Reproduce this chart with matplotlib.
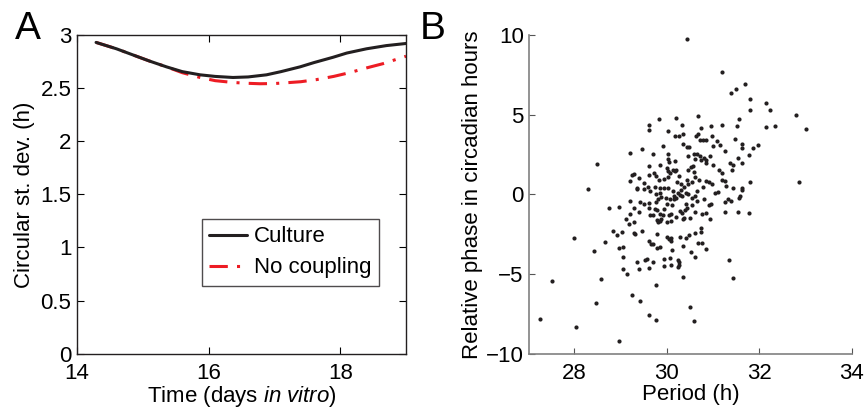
import matplotlib
matplotlib.use("Agg")
import matplotlib.pyplot as plt
import numpy as np

plt.rcParams['font.family'] = ['Liberation Sans', 'DejaVu Sans']
plt.rcParams['axes.unicode_minus'] = True
plt.rcParams['mathtext.fontset'] = 'custom'
plt.rcParams['mathtext.rm'] = 'Liberation Sans'
plt.rcParams['mathtext.it'] = 'Liberation Sans:italic'

# ---- Panel A data ----
time_culture = [14.29, 14.6, 14.86, 15.1, 15.36, 15.6, 15.87, 16.1, 16.37, 16.6, 16.88, 17.1, 17.39, 17.6, 17.89, 18.1, 18.40, 18.7, 19.0]
sd_culture   = [2.93, 2.87, 2.81, 2.755, 2.70, 2.655, 2.625, 2.61, 2.60, 2.605, 2.625, 2.655, 2.70, 2.74, 2.79, 2.83, 2.87, 2.90, 2.92]
time_nocoup  = [14.29, 14.6, 14.86, 15.1, 15.36, 15.6, 15.87, 16.1, 16.37, 16.6, 16.78, 17.0, 17.13, 17.4, 17.64, 17.9, 18.14, 18.4, 18.65, 18.85, 19.0]
sd_nocoup    = [2.93, 2.87, 2.81, 2.755, 2.70, 2.645, 2.60, 2.57, 2.553, 2.545, 2.541, 2.543, 2.548, 2.56, 2.58, 2.61, 2.645, 2.69, 2.73, 2.77, 2.80]

# ---- Panel B data ----
period = [30.45, 31.19, 31.69, 31.50, 31.40, 31.80, 32.15, 31.80, 32.23, 32.79, 30.67, 29.83, 30.21,
          29.61, 30.34, 30.96, 31.19, 31.57, 32.15, 32.34, 33.01, 31.52, 29.61, 30.02, 30.75,
          30.18, 30.26, 30.36, 30.64, 30.67, 30.72, 30.79, 30.86, 30.97, 31.08, 31.47,
          30.36, 30.44, 30.49, 29.92, 29.46, 31.01, 31.16, 31.62,
          29.21, 29.70, 30.03, 30.65, 30.59, 31.27, 31.63, 31.78, 31.86, 31.97,
          30.46, 30.73, 30.80, 30.94, 31.54, 31.62,
          30.03, 30.06, 30.17, 30.75, 30.84, 30.86, 30.62,
          28.49, 29.61, 29.86, 30.57, 31.00, 31.37, 31.44,
          30.13, 30.18, 30.21, 30.07, 30.03, 30.47, 30.53, 31.13, 31.20, 31.41,
          29.61, 29.72, 29.78, 29.26, 29.30, 29.41, 29.21, 29.94, 30.26, 30.62, 30.60, 30.44, 30.69, 30.86, 30.91, 31.20, 31.27, 31.80, 32.86,
          29.50, 29.84, 29.36, 29.36, 29.59, 29.52, 29.64, 29.74, 29.85, 29.94, 30.03, 30.38, 30.47, 30.30, 30.22, 30.79, 30.65, 31.05, 31.11, 31.28, 31.44, 31.63, 31.63, 28.29,
          29.85, 29.77, 29.88, 29.98, 30.13, 30.16, 30.24, 30.28, 30.34, 30.42, 30.47, 30.62, 30.81, 29.20, 29.42, 29.52, 29.82, 30.07, 30.16, 30.21, 30.01, 30.55, 31.32, 31.27, 31.39, 31.58, 31.56, 30.91, 30.96, 28.76, 28.97,
          29.30, 29.21, 29.40, 29.61, 29.74, 29.80, 29.95, 30.28, 30.34, 30.39, 30.43, 30.62, 30.76, 30.85, 31.27, 31.54, 31.79,
          29.63, 29.70, 29.85, 29.91, 30.05, 30.10, 30.21, 30.38, 30.51, 29.12, 29.30, 29.79, 29.81, 29.85, 29.88, 30.00, 30.10, 30.35, 30.94, 29.18,
          28.83, 28.92, 29.03, 29.29, 29.31, 29.46, 29.80, 30.75, 30.75, 30.62, 30.49, 30.42, 30.29, 30.00, 30.04, 30.10, 30.09,
          27.99, 28.66, 28.97, 29.06, 28.43, 29.61, 29.67, 29.70, 29.80, 29.85, 30.35, 30.11, 30.68, 30.77, 30.86, 30.52, 30.62,
          29.05, 29.36, 29.54, 29.58, 29.71, 29.95, 30.07, 30.24, 30.26, 29.95, 30.09, 30.26, 30.24, 31.34,
          29.40, 29.62, 29.05, 29.15, 30.35, 31.44, 27.53, 28.58, 29.78, 29.26, 29.43, 28.48, 30.51, 29.61, 29.78, 30.59, 27.27, 28.03, 28.97,
          30.00, 30.02, 30.55, 30.30, 30.97, 29.61, 29.78, 30.11, 30.42, 30.55, 30.65]
phase = [9.73, 7.67, 6.91, 6.64, 6.39, 5.99, 5.76, 5.32, 5.28, 4.99, 4.89, 4.72, 4.78,
         4.38, 4.32, 4.30, 4.38, 4.70, 4.20, 4.26, 4.11, 4.26, 4.01, 3.95, 4.18,
         3.67, 3.67, 3.78, 3.67, 3.78, 3.42, 3.42, 3.42, 3.63, 3.36, 3.49,
         3.19, 2.98, 2.96, 3.01, 2.82, 3.01, 3.09, 3.19,
         2.61, 2.53, 2.53, 2.51, 2.51, 2.69, 2.90, 2.48, 2.90, 3.09,
         2.40, 2.40, 2.28, 2.38, 2.30, 1.98,
         2.23, 2.03, 2.09, 2.13, 2.13, 1.96, 2.23,
         1.88, 1.75, 1.82, 1.77, 1.84, 1.94, 1.84,
         1.52, 1.44, 1.52, 1.34, 1.44, 1.50, 1.73, 1.50, 1.34, 1.50,
         1.21, 1.36, 1.15, 1.19, 1.27, 1.00, 0.84, 0.94, 1.15, 1.11, 1.40, 0.88, 0.88, 0.84, 0.77, 0.88, 0.86, 0.77, 0.77,
         0.71, 0.90, 0.42, 0.31, 0.48, 0.31, 0.23, 0.48, 0.38, 0.42, 0.42, 0.48, 0.65, 0.67, 0.77, 0.46, 0.21, 0.10, 0.15, 0.50, 0.40, 0.40, 0.29, 0.35,
         0.10, 0.00, -0.19, -0.21, 0.19, -0.10, 0.08, -0.02, -0.08, 0.06, 0.02, -0.08, -0.31, -0.42, -0.48, -0.58, -0.31, -0.31, -0.27, -0.25, -0.58, -0.23, -0.31, -0.50, -0.40, -0.10, -0.21, -0.67, -0.61, -0.88, -0.79,
         -0.84, -1.23, -1.09, -0.86, -0.90, -0.98, -0.94, -1.02, -1.15, -1.00, -0.88, -1.13, -1.23, -1.15, -1.09, -1.09, -1.17,
         -1.29, -1.29, -1.23, -1.29, -1.29, -1.25, -1.44, -1.46, -1.50, -1.57, -1.71, -1.59, -1.73, -1.65, -1.57, -1.73, -1.65, -1.57, -1.57, -1.88,
         -2.30, -2.57, -2.34, -2.40, -2.51, -2.32, -2.48, -2.11, -2.34, -2.40, -2.53, -2.76, -2.67, -2.65, -2.82, -2.76, -2.94,
         -2.76, -3.01, -3.36, -3.30, -3.55, -2.92, -3.09, -3.13, -3.34, -3.32, -3.26, -3.49, -3.07, -3.07, -3.44, -3.61, -3.92,
         -3.92, -4.24, -4.13, -4.05, -4.26, -4.03, -3.99, -4.11, -4.24, -4.49, -4.43, -4.45, -4.55, -4.15,
         -4.66, -4.61, -4.68, -4.97, -5.20, -5.24, -5.41, -5.32, -5.70, -6.30, -6.70, -6.79, -7.06, -7.60, -7.87, -7.93, -7.83, -8.31, -9.19,
         1.65, 1.09, 0.77, 0.27, 0.67, -0.56, -0.50, -0.69, -0.58, -0.67, -0.42]

FS = 16
fig = plt.figure(figsize=(8.65, 4.13), dpi=100)

# ---------- Panel A ----------
axA = fig.add_axes([0.089, 0.1436, 0.3804, 0.7717])
axA.plot(time_culture, sd_culture, color='#231f20', lw=2.2, label='Culture', zorder=3,
         solid_joinstyle='round', solid_capstyle='round')
axA.plot(time_nocoup, sd_nocoup, color='#ed1c24', lw=2.2, ls=(0, (6, 3, 1, 3)), label='No coupling', zorder=2)
axA.set_xlim(14, 19)
axA.set_ylim(0, 3)
axA.set_xticks([14, 16, 18])
axA.set_yticks([0, 0.5, 1, 1.5, 2, 2.5, 3])
axA.set_yticklabels(['0', '0.5', '1', '1.5', '2', '2.5', '3'])
axA.tick_params(direction='in', top=True, right=True, labelsize=FS, length=5, width=0.8)
axA.tick_params(axis='x', pad=7)
axA.tick_params(axis='y', pad=4)
for s in axA.spines.values():
    s.set_linewidth(1.0)
    s.set_color('#231f20')
axA.set_xlabel('Time (days $\\mathit{in\\ vitro}$)', fontsize=FS, labelpad=0)
axA.set_ylabel('Circular st. dev. (h)', fontsize=FS, labelpad=4)
leg = axA.legend(loc='lower right', bbox_to_anchor=(0.918, 0.212), fontsize=FS, frameon=True,
                 fancybox=False, handlelength=1.7, handletextpad=0.3, borderpad=0.35,
                 labelspacing=0.45, borderaxespad=0)
leg.get_frame().set_edgecolor('#231f20')
leg.get_frame().set_linewidth(1.0)
fig.text(0.017, 0.905, 'A', fontsize=28, va='baseline', ha='left')

# ---------- Panel B ----------
axB = fig.add_axes([0.6119, 0.1436, 0.3727, 0.7717])
axB.scatter(period, phase, s=9, color='#231f20', linewidths=0, zorder=3)
axB.set_xlim(27.03, 34)
axB.set_ylim(-10, 10)
axB.set_xticks([28, 30, 32, 34])
axB.set_yticks([-10, -5, 0, 5, 10])
axB.spines['top'].set_visible(False)
axB.spines['right'].set_visible(False)
for s in ['left', 'bottom']:
    axB.spines[s].set_color('#808080')
    axB.spines[s].set_linewidth(1.2)
axB.tick_params(direction='in', labelsize=FS, length=4, width=0.8, color='#555555', pad=4)
axB.tick_params(axis='x', pad=7)
axB.set_xlabel('Period (h)', fontsize=FS, labelpad=0)
axB.set_ylabel('Relative phase in circadian hours', fontsize=FS, labelpad=2)
fig.text(0.485, 0.905, 'B', fontsize=28, va='baseline', ha='left')

fig.savefig('out.png', dpi=100)
